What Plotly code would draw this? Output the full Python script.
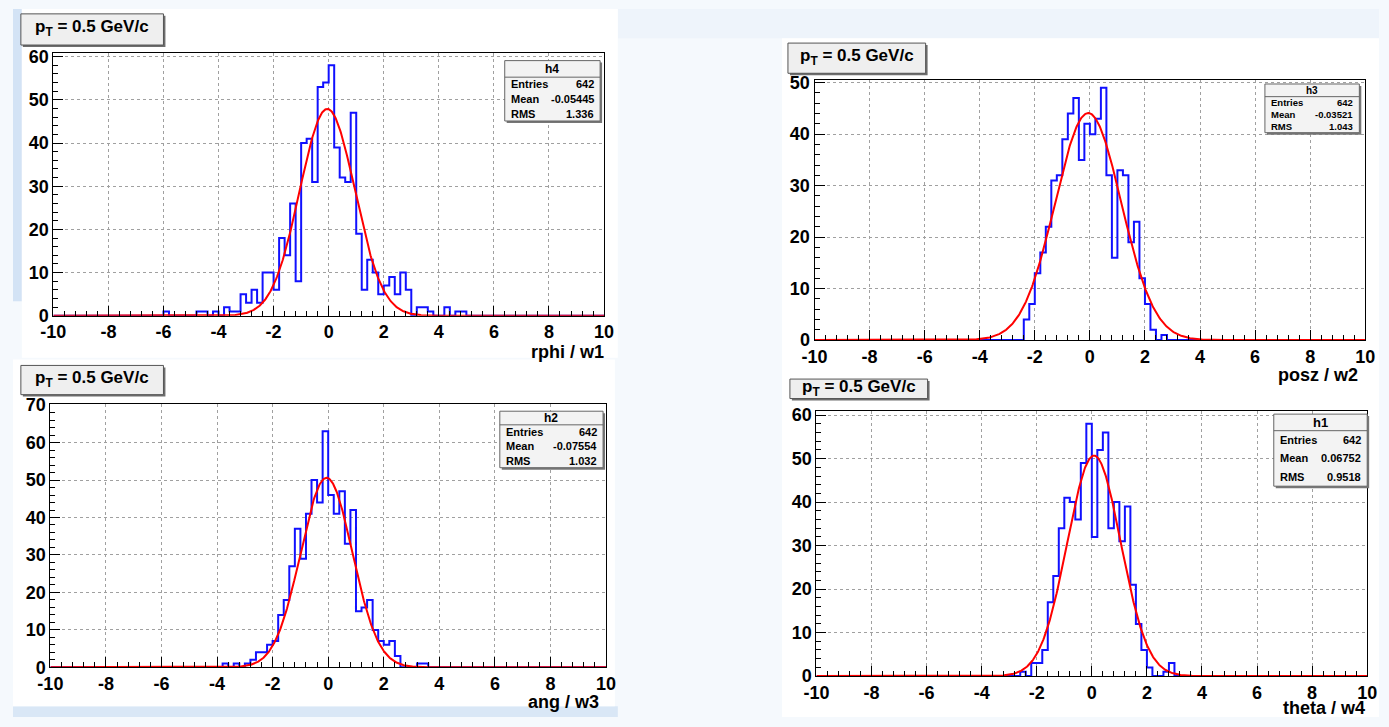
import numpy as np
import plotly.graph_objects as go

W, H = 1389, 727
X_MIN, X_MAX, BIN_W, N_BINS = -10.0, 10.0, 0.2, 100

# ---------------- data (bin contents, 0.2 wide bins) ----------------
h4_first_bin = -6.0
h4_counts = [1, 0, 0, 0, 0, 0, 1, 1, 0, 1, 0, 2, 1, 1, 5, 3, 6, 3, 10, 10, 6, 18, 14, 26, 8,
             40, 41, 31, 53, 54, 58, 39, 32, 31, 47, 19, 6, 13, 10, 5, 7, 9, 5, 10, 6, 0,
             2, 2, 1, 0, 0, 2, 0, 1, 1]
h3_first_bin = -2.4
h3_counts = [4, 7, 13, 17, 22, 31, 32, 39, 44, 47, 35, 42, 40, 43, 49, 32, 16, 33, 32, 19,
             23, 12, 7, 2, 0, 1]
h2_first_bin = -3.8
h2_counts = [1, 0, 1, 0, 1, 2, 4, 4, 6, 7, 14, 18, 27, 37, 29, 41, 50, 44, 63, 46, 41, 47,
             33, 42, 15, 16, 18, 10, 7, 6, 7, 3, 0, 0, 0, 1, 1]
h1_first_bin = -2.6
h1_counts = [1, 0, 3, 3, 6, 17, 23, 34, 41, 40, 36, 49, 58, 32, 52, 56, 34, 40, 31, 39, 21,
             12, 6, 2, 0, 0, 1, 3]

# gaussian fit parameters: constant, mean, sigma
h4_fit = [47.9, -0.05, 1.00]
h3_fit = [44.1, -0.06, 1.20]
h2_fit = [50.6, -0.06, 0.93]
h1_fit = [50.7, 0.08, 0.97]

# stat box contents
h4_stats = ["h4", "642", "-0.05445", "1.336"]
h3_stats = ["h3", "642", "-0.03521", "1.043"]
h2_stats = ["h2", "642", "-0.07554", "1.032"]
h1_stats = ["h1", "642", "0.06752", "0.9518"]

x_titles = ["rphi / w1", "posz / w2", "ang / w3", "theta / w4"]
pad_title = "p<sub>T</sub> = 0.5 GeV/c"
y_max = [60.9, 50.5, 70.2, 60.9]
x_tick_vals = [-10, -8, -6, -4, -2, 0, 2, 4, 6, 8, 10]
x_tick_text = ["-10", "-8", "-6", "-4", "-2", "0", "2", "4", "6", "8", "10"]

# ---------------- helpers ----------------
def fx(px):
    return px / W

def fy(py):
    return 1 - py / H

FONT = "Liberation Sans"

def full_counts(first, counts):
    arr = [0] * N_BINS
    start = int(round((first - X_MIN) / BIN_W))
    for i, c in enumerate(counts):
        arr[start + i] = c
    return arr

edges = [X_MIN + i * BIN_W for i in range(N_BINS + 1)]

fig = go.Figure()
shapes = []
annotations = []

# background: light-blue slide accents and white canvases
for (x0, y0, x1, y1, col) in [(0, 0, 9, 300, "#d3e3f5"), (0, 716, 615, 727, "#d9e7f6"),
                              (615, 0, 1389, 30, "#eef4fb")]:
    shapes.append(dict(type="rect", xref="paper", yref="paper", x0=fx(x0), x1=fx(x1), y0=fy(y1), y1=fy(y0),
                       fillcolor=col, line=dict(width=0), layer="below"))
for (x0, y0, x1, y1) in [(9, 0, 615, 358), (0, 360, 612, 716), (782, 30, 1389, 380), (782, 380, 1389, 727)]:
    shapes.append(dict(type="rect", xref="paper", yref="paper", x0=fx(x0), x1=fx(x1), y0=fy(y1), y1=fy(y0),
                       fillcolor="white", line=dict(width=0), layer="below"))

panels = [
    dict(first=h4_first_bin, counts=h4_counts, fit=h4_fit, stats=h4_stats,
         dom=(41, 601, 45, 315), stat=(500, 53, 597, 115, 17, 11, 12),
         title=(8, 5, 153, 37), xt=(603, 352)),
    dict(first=h3_first_bin, counts=h3_counts, fit=h3_fit, stats=h3_stats,
         dom=(815, 1375, 73, 340), stat=(1273, 77, 1369, 127, 13, 9.5, 10),
         title=(788, 35, 928, 66), xt=(1370, 376)),
    dict(first=h2_first_bin, counts=h2_counts, fit=h2_fit, stats=h2_stats,
         dom=(38, 603, 406, 676), stat=(495, 413, 600, 471, 14, 11, 12),
         title=(8, 366, 153, 396), xt=(598, 712)),
    dict(first=h1_first_bin, counts=h1_counts, fit=h1_fit, stats=h1_stats,
         dom=(817, 1377, 413, 685), stat=(1282, 416, 1377, 490, 17, 11, 13),
         title=(790, 380, 930, 400), xt=(1377, 718)),
]

xfine = np.linspace(X_MIN, X_MAX, 1001)

layout_axes = {}
for k, p in enumerate(panels):
    idx = "" if k == 0 else str(k + 1)
    xa, ya = "x" + idx, "y" + idx
    cnt = full_counts(p["first"], p["counts"])
    xs = [edges[0]] + edges[:-1] + [edges[-1], edges[-1]]
    ys = [0] + cnt + [cnt[-1], 0]
    fig.add_trace(go.Scatter(x=xs, y=ys, mode="lines", line=dict(color="#1010ff", width=2, shape="hv"),
                             xaxis=xa, yaxis=ya, showlegend=False, hoverinfo="skip"))
    A, mu, sg = p["fit"]
    fig.add_trace(go.Scatter(x=xfine, y=A * np.exp(-0.5 * ((xfine - mu) / sg) ** 2), mode="lines",
                             line=dict(color="#ff0000", width=2), xaxis=xa, yaxis=ya,
                             showlegend=False, hoverinfo="skip"))
    x0, x1, y0, y1 = p["dom"]
    common = dict(ticks="inside", tickcolor="black", tickwidth=1, showgrid=True, gridcolor="#a0a0a0",
                  griddash="dot", gridwidth=1, showline=True, linecolor="black", linewidth=1,
                  mirror=True, zeroline=False, fixedrange=True,
                  tickfont=dict(family=FONT, size=18, color="black", weight="bold"))
    layout_axes["xaxis" + idx] = dict(domain=[fx(x0), fx(x1)], range=[X_MIN, X_MAX],
                                      tickmode="array", tickvals=x_tick_vals, ticktext=x_tick_text,
                                      ticklen=10, anchor=ya,
                                      minor=dict(dtick=0.4, tick0=0, ticks="inside", ticklen=5,
                                                 tickcolor="black", showgrid=False), **common)
    layout_axes["yaxis" + idx] = dict(domain=[fy(y1), fy(y0)], range=[0, y_max[k]], dtick=10, tick0=0,
                                      ticklen=10, anchor=xa,
                                      minor=dict(dtick=2, tick0=0, ticks="inside", ticklen=5,
                                                 tickcolor="black", showgrid=False), **common)

    # x-axis title
    tx, ty = p["xt"]
    annotations.append(dict(x=fx(tx), y=fy(ty), xref="paper", yref="paper", text="<b>" + x_titles[k] + "</b>",
                            showarrow=False, xanchor="right", yanchor="middle",
                            font=dict(family=FONT, size=18, color="black")))

    # pad title box
    bx0, by0, bx1, by1 = p["title"]
    shapes.append(dict(type="rect", xref="paper", yref="paper", x0=fx(bx0 + 2), x1=fx(bx1 + 2),
                       y0=fy(by1 + 2), y1=fy(by0 + 2), fillcolor="#6e6e6e", line=dict(width=0)))
    shapes.append(dict(type="rect", xref="paper", yref="paper", x0=fx(bx0), x1=fx(bx1), y0=fy(by1), y1=fy(by0),
                       fillcolor="#efefef", line=dict(color="#555555", width=1)))
    annotations.append(dict(x=fx((bx0 + bx1) / 2), y=fy((by0 + by1) / 2 - 1), xref="paper", yref="paper",
                            text="<b>" + pad_title + "</b>", showarrow=False, xanchor="center", yanchor="middle",
                            font=dict(family=FONT, size=17, color="black")))

    # stat box
    sx0, sy0, sx1, sy1, hh, fs, hfs = p["stat"]
    name, ent, mean, rms = p["stats"]
    shapes.append(dict(type="rect", xref="paper", yref="paper", x0=fx(sx0 + 2), x1=fx(sx1 + 2),
                       y0=fy(sy1 + 2), y1=fy(sy0 + 2), fillcolor="#777777", line=dict(width=0)))
    shapes.append(dict(type="rect", xref="paper", yref="paper", x0=fx(sx0), x1=fx(sx1), y0=fy(sy1), y1=fy(sy0),
                       fillcolor="#f3f3f3", line=dict(color="#666666", width=1)))
    shapes.append(dict(type="line", xref="paper", yref="paper", x0=fx(sx0), x1=fx(sx1),
                       y0=fy(sy0 + hh), y1=fy(sy0 + hh), line=dict(color="#666666", width=1)))
    annotations.append(dict(x=fx((sx0 + sx1) / 2), y=fy(sy0 + hh / 2), xref="paper", yref="paper",
                            text="<b>" + name + "</b>", showarrow=False, xanchor="center", yanchor="middle",
                            font=dict(family=FONT, size=hfs, color="black")))
    rowh = (sy1 - sy0 - hh) / 3
    for r, (lab, val) in enumerate([("Entries", ent), ("Mean", mean), ("RMS", rms)]):
        yy = sy0 + hh + rowh * (r + 0.5)
        annotations.append(dict(x=fx(sx0 + 4), y=fy(yy), xref="paper", yref="paper", text="<b>" + lab + "</b>",
                                showarrow=False, xanchor="left", yanchor="middle",
                                font=dict(family=FONT, size=fs, color="black")))
        annotations.append(dict(x=fx(sx1 - 4), y=fy(yy), xref="paper", yref="paper", text="<b>" + val + "</b>",
                                showarrow=False, xanchor="right", yanchor="middle",
                                font=dict(family=FONT, size=fs, color="black")))

fig.update_layout(width=W, height=H, margin=dict(l=0, r=0, t=0, b=0), paper_bgcolor="#f5f9fd",
                  plot_bgcolor="white", shapes=shapes, annotations=annotations, showlegend=False,
                  **layout_axes)

fig.write_html("out.html")
